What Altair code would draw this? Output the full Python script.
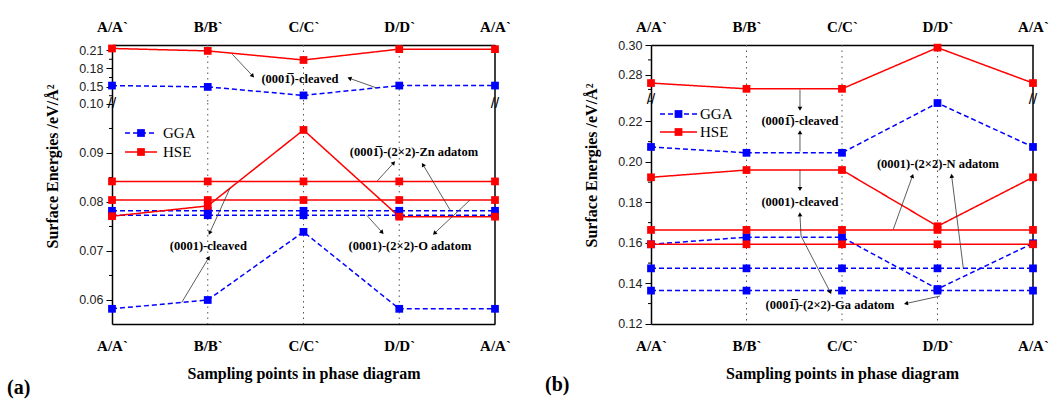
import math
import json
import altair as alt
import pandas as pd

SERIF = "Liberation Serif"
SANS = "Liberation Sans"
BAR1 = "1\u0305"

X_LABELS = ["A/A`", "B/B`", "C/C`", "D/D`", "A/A`"]
X_INDEX = [0, 1, 2, 3, 4]
V_LINES = [1, 2, 3]

# ---------------- (a) ZnO ----------------
# upper segment (above the axis break)
A_HSE_0001B_CLEAVED = [0.2128, 0.2088, 0.1938, 0.2117, 0.2117]
A_GGA_0001B_CLEAVED = [0.1517, 0.1495, 0.1355, 0.1517, 0.1517]
# lower segment
A_HSE_0001_CLEAVED = [0.0771, 0.0792, 0.0947, 0.0770, 0.0770]
A_HSE_ZN_ADATOM = [0.0842, 0.0842, 0.0842, 0.0842, 0.0842]
A_HSE_O_ADATOM = [0.0804, 0.0804, 0.0804, 0.0804, 0.0804]
A_GGA_ZN_ADATOM = [0.0782, 0.0782, 0.0782, 0.0782, 0.0782]
A_GGA_O_ADATOM = [0.0773, 0.0773, 0.0773, 0.0773, 0.0773]
A_GGA_0001_CLEAVED = [0.0582, 0.0600, 0.0739, 0.0582, 0.0582]

# ---------------- (b) GaN ----------------
B_HSE_0001B_CLEAVED = [0.2743, 0.2704, 0.2704, 0.2983, 0.2743]
B_GGA_0001B_CLEAVED = [0.2074, 0.2045, 0.2045, 0.2291, 0.2074]
B_HSE_0001_CLEAVED = [0.1924, 0.1960, 0.1960, 0.1682, 0.1924]
B_HSE_N_ADATOM = [0.1664, 0.1664, 0.1664, 0.1664, 0.1664]
B_HSE_GA_ADATOM = [0.1593, 0.1593, 0.1593, 0.1593, 0.1593]
B_GGA_0001_CLEAVED = [0.1593, 0.1628, 0.1628, 0.1372, 0.1598]
B_GGA_N_ADATOM = [0.1474, 0.1474, 0.1474, 0.1474, 0.1474]
B_GGA_GA_ADATOM = [0.1364, 0.1364, 0.1364, 0.1364, 0.1364]

# annotation texts (x index, y value, text)
A_UP_NOTES = [(1.963, 0.1633, "(000" + BAR1 + ")-cleaved")]
A_UP_ARROWS = [(1.256, 0.2033, 1.465, 0.1683), (2.764, 0.1478, 2.486, 0.1633)]
A_LO_NOTES = [
    (1.006, 0.0710, "(0001)-cleaved"),
    (3.154, 0.0901, "(000" + BAR1 + ")-(2\u00d72)-Zn adatom"),
    (3.112, 0.0710, "(0001)-(2\u00d72)-O adatom"),
]
A_LO_ARROWS = [
    (1.232, 0.0828, 1.023, 0.0738), (0.728, 0.0595, 1.006, 0.0685),
    (2.771, 0.0843, 2.938, 0.0879), (3.530, 0.0784, 3.251, 0.0875),
    (2.660, 0.0773, 2.817, 0.0739), (3.739, 0.0804, 3.373, 0.0737),
]
B_LO_NOTES = [
    (1.560, 0.2200, "(000" + BAR1 + ")-cleaved"),
    (1.560, 0.1804, "(0001)-cleaved"),
    (3.005, 0.1991, "(0001)-(2\u00d72)-N adatom"),
    (1.874, 0.1293, "(000" + BAR1 + ")-(2\u00d72)-Ga adatom"),
]
B_LO_ARROWS = [
    (1.560, 0.2357, 1.560, 0.2266), (1.560, 0.2052, 1.560, 0.2143),
    (1.560, 0.1961, 1.560, 0.1870), (1.571, 0.1634, 1.560, 0.1738),
    (1.571, 0.1634, 1.874, 0.1359), (3.026, 0.1337, 2.677, 0.1301),
    (2.537, 0.1667, 2.736, 0.1928), (3.270, 0.1476, 3.149, 0.1928),
]

SEGMENTS = {
    "a_up": dict(domain=[0.1230, 0.2185], height=58, width=383,
                 ticks=[0.15, 0.18, 0.21], minor=[0.135, 0.165, 0.195]),
    "a_lo": dict(domain=[0.0551, 0.1002], height=221, width=383,
                 ticks=[0.06, 0.07, 0.08, 0.09, 0.10], minor=[0.065, 0.075, 0.085, 0.095]),
    "b_up": dict(domain=[0.2635, 0.3001], height=54, width=382,
                 ticks=[0.28, 0.30], minor=[0.27, 0.29]),
    "b_lo": dict(domain=[0.1199, 0.2311], height=225, width=382,
                 ticks=[0.12, 0.14, 0.16, 0.18, 0.20, 0.22],
                 minor=[0.13, 0.15, 0.17, 0.19, 0.21, 0.23]),
}

BLUE = "#0000ff"
RED = "#ff0000"
LABEL_EXPR = json.dumps(X_LABELS) + "[datum.value]"


def series_df(items):
    rows = []
    for name, method, vals in items:
        for xi, v in zip(X_INDEX, vals):
            rows.append({"x": xi, "y": v, "method": method, "series": name})
    return pd.DataFrame(rows)


def make_segment(key, items, notes, arrows, position, y_title=None, title_y=0,
                 legend=None, panel_tag=None):
    cfg = SEGMENTS[key]
    w, h, dom = cfg["width"], cfg["height"], cfg["domain"]
    if position == "top":
        xaxis = alt.Axis(orient="top", values=X_INDEX, labelExpr=LABEL_EXPR, ticks=False,
                         tickSize=0, labelFont=SERIF, labelFontWeight="bold", labelFontSize=15,
                         labelColor="black", labelPadding=14, labelBaseline="alphabetic",
                         labelOverlap=False, labelFlush=False, domainColor="black",
                         domainWidth=1.5, grid=False, title=None)
    else:
        xaxis = alt.Axis(orient="bottom", values=X_INDEX, labelExpr=LABEL_EXPR, ticks=False,
                         tickSize=0, labelFont=SERIF, labelFontWeight="bold", labelFontSize=15,
                         labelColor="black", labelPadding=26, labelBaseline="alphabetic",
                         labelOverlap=False, labelFlush=False, domainColor="black",
                         domainWidth=1.5, grid=False,
                         title="Sampling points in phase diagram", titleFont=SERIF,
                         titleFontWeight="bold", titleFontSize=16, titleColor="black",
                         titleY=54, titleX=w / 2, titleBaseline="alphabetic", titleAlign="center")
    yaxis_kw = dict(values=cfg["ticks"], format=".2f", tickSize=6, tickColor="black",
                    tickWidth=1, labelFont=SANS, labelFontSize=12.5, labelColor="#222",
                    labelPadding=3, labelOverlap=False, labelFlush=False,
                    domainColor="black", domainWidth=1.5, grid=False)
    if y_title:
        yaxis = alt.Axis(title=y_title, titleFont=SERIF, titleFontWeight="bold",
                         titleFontSize=16, titleColor="black", titleX=-60, titleY=title_y,
                         titleAngle=270, titleAlign="center", titleBaseline="middle", **yaxis_kw)
    else:
        yaxis = alt.Axis(title=None, **yaxis_kw)

    X = alt.X("x:Q", scale=alt.Scale(domain=[0, 4], nice=False, zero=False), axis=xaxis)
    Y = alt.Y("y:Q", scale=alt.Scale(domain=dom, nice=False, zero=False), axis=yaxis)

    color = alt.Color("method:N", scale=alt.Scale(domain=["GGA", "HSE"], range=[BLUE, RED]),
                      legend=None)
    dash = alt.StrokeDash("method:N", scale=alt.Scale(domain=["GGA", "HSE"],
                                                      range=[[5, 3], [1, 0]]), legend=None)

    sdf = series_df(items)
    layers = []
    # dotted vertical guides
    layers.append(alt.Chart(pd.DataFrame({"x": V_LINES})).mark_rule(
        color="#555", strokeWidth=1, strokeDash=[1.5, 4]).encode(x=X))
    # right frame
    layers.append(alt.Chart(pd.DataFrame({"x": [4]})).mark_rule(
        color="black", strokeWidth=1.5).encode(x=X))
    # minor ticks on the y axis
    layers.append(alt.Chart(pd.DataFrame({"y": cfg["minor"]})).mark_rule(
        color="black", strokeWidth=1).encode(x=alt.value(-3), x2=alt.value(0), y=Y))
    # series
    layers.append(alt.Chart(sdf).mark_line(strokeWidth=1.5).encode(
        x=X, y=Y, color=color, strokeDash=dash, detail="series:N"))
    layers.append(alt.Chart(sdf).mark_square(size=60, opacity=1).encode(
        x=X, y=Y, color=color, detail="series:N"))
    # arrows
    if arrows:
        sx = w / 4.0
        sy = h / (dom[1] - dom[0])
        rows = []
        for x1, y1, x2, y2 in arrows:
            dxp = (x2 - x1) * sx
            dyp = -(y2 - y1) * sy
            ang = math.degrees(math.atan2(dxp, -dyp)) % 360
            rows.append({"x": x1, "y": y1, "x2": x2, "y2": y2, "ang": ang})
        adf = pd.DataFrame(rows)
        layers.append(alt.Chart(adf).mark_rule(color="#333", strokeWidth=0.8).encode(
            x=X, y=Y, x2="x2:Q", y2="y2:Q"))
        heads = adf.rename(columns={"x": "x0", "y": "y0"}).rename(columns={"x2": "x", "y2": "y"})
        layers.append(alt.Chart(heads).mark_point(shape="triangle", filled=True, size=22,
                                                   color="black", opacity=1).encode(
            x=X, y=Y, angle=alt.Angle("ang:Q", scale=None)))
    if notes:
        ndf = pd.DataFrame([{"x": a, "y": b, "t": t} for a, b, t in notes])
        layers.append(alt.Chart(ndf).mark_text(font=SERIF, fontWeight="bold", fontSize=12.5,
                                               color="black").encode(x=X, y=Y, text="t:N"))
    if position == "bottom":
        # axis break marks
        layers.append(alt.Chart(pd.DataFrame({"x": [0, 4]})).mark_text(
            text="//", fontSize=15, font=SANS, color="black", baseline="middle").encode(
            x=X, y=alt.value(0)))
    if legend:
        for name, col, dsh, ypix, x0, x1, xt in legend:
            base = alt.Chart(pd.DataFrame({"label": [name]}))
            layers.append(base.mark_rule(color=col, strokeWidth=1.5, strokeDash=dsh).encode(
                x=alt.value(x0), x2=alt.value(x1), y=alt.value(ypix)))
            layers.append(base.mark_square(color=col, size=60, opacity=1).encode(
                x=alt.value((x0 + x1) / 2), y=alt.value(ypix)))
            layers.append(base.mark_text(align="left", baseline="middle", font=SERIF,
                                         fontSize=15, color="black").encode(
                x=alt.value(xt), y=alt.value(ypix), text="label:N"))
    if panel_tag:
        tag, tx, ty = panel_tag
        layers.append(alt.Chart(pd.DataFrame({"t": [tag]})).mark_text(
            align="left", baseline="middle", font=SERIF, fontWeight="bold", fontSize=20,
            color="black").encode(x=alt.value(tx), y=alt.value(ty), text="t:N"))
    return alt.layer(*layers).properties(width=w, height=h)


Y_TITLE = "Surface Energies /eV/\u00c5\u00b2"

a_up = make_segment("a_up", [
    ("hse_bar", "HSE", A_HSE_0001B_CLEAVED),
    ("gga_bar", "GGA", A_GGA_0001B_CLEAVED),
], A_UP_NOTES, A_UP_ARROWS, "top")

a_lo = make_segment("a_lo", [
    ("gga_zn", "GGA", A_GGA_ZN_ADATOM),
    ("gga_o", "GGA", A_GGA_O_ADATOM),
    ("gga_cl", "GGA", A_GGA_0001_CLEAVED),
    ("hse_zn", "HSE", A_HSE_ZN_ADATOM),
    ("hse_o", "HSE", A_HSE_O_ADATOM),
    ("hse_cl", "HSE", A_HSE_0001_CLEAVED),
], A_LO_NOTES, A_LO_ARROWS, "bottom", y_title=Y_TITLE, title_y=63,
    legend=[("GGA", BLUE, [5, 3], 30, 13, 45, 51), ("HSE", RED, [1, 0], 49, 13, 45, 51)],
    panel_tag=("(a)", -105, 285))

b_up = make_segment("b_up", [
    ("hse_bar", "HSE", B_HSE_0001B_CLEAVED),
], [], [], "top")

b_lo = make_segment("b_lo", [
    ("gga_n", "GGA", B_GGA_N_ADATOM),
    ("gga_ga", "GGA", B_GGA_GA_ADATOM),
    ("gga_cl", "GGA", B_GGA_0001_CLEAVED),
    ("gga_bar", "GGA", B_GGA_0001B_CLEAVED),
    ("hse_n", "HSE", B_HSE_N_ADATOM),
    ("hse_ga", "HSE", B_HSE_GA_ADATOM),
    ("hse_cl", "HSE", B_HSE_0001_CLEAVED),
], B_LO_NOTES, B_LO_ARROWS, "bottom", y_title=Y_TITLE, title_y=66,
    legend=[("GGA", BLUE, [5, 3], 15, 9, 46, 49), ("HSE", RED, [1, 0], 33, 9, 46, 49)],
    panel_tag=("(b)", -106, 286))

left = alt.vconcat(a_up, a_lo, spacing=0, bounds="flush")
right = alt.vconcat(b_up, b_lo, spacing=0, bounds="flush")

# with flush bounds the nested column counts as zero width, so the spacing
# spans panel (a)'s plot width plus the gap between the two panels
chart = alt.hconcat(left, right, spacing=383 + 156, bounds="flush").properties(
    padding={"left": 7, "top": 19, "right": 4, "bottom": 4},
    background="white",
).configure_view(stroke=None)

chart.save("out.html", embed_options={"renderer": "svg", "actions": False})
